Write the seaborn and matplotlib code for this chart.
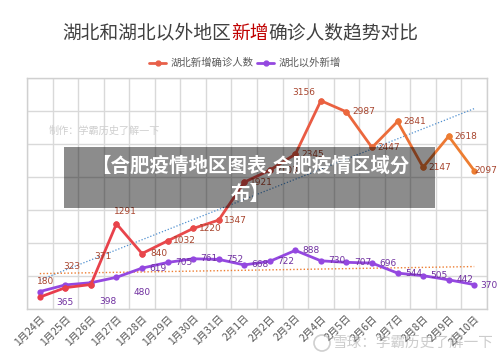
import numpy as np
import pandas as pd
import matplotlib
matplotlib.use("Agg")
import matplotlib.pyplot as plt
import matplotlib.patches as mpatches
from matplotlib.lines import Line2D
from matplotlib.colors import LinearSegmentedColormap
import seaborn as sns

# --- DATA ---
dates = ["1月24日", "1月25日", "1月26日", "1月27日", "1月28日", "1月29日",
         "1月30日", "1月31日", "2月1日", "2月2日", "2月3日", "2月4日",
         "2月5日", "2月6日", "2月7日", "2月8日", "2月9日", "2月10日"]
hubei = [180, 323, 371, 1291, 840, 1032, 1220, 1347, 1921, 2103,
         2345, 3156, 2987, 2447, 2841, 2147, 2618, 2097]
outside = [264, 365, 398, 480, 619, 705, 761, 752, 668, 722,
           888, 730, 707, 696, 544, 505, 442, 370]

df = pd.DataFrame({"idx": np.arange(len(dates)), "date": dates,
                   "hubei": hubei, "outside": outside})

# label offsets in pixels (most labels sit right of the point)
hubei_off = {0: (6, 16), 1: (7, 21), 2: (12, 28), 3: (9, 12), 11: (-17, 8), 17: (12, 0)}
outside_off = {1: (0, -18), 2: (17, -19), 3: (26, -15), 17: (15, -1)}
outside_skip = [0]

sns.set_style("white")
plt.rcParams["font.family"] = ["Noto Sans CJK SC", "DejaVu Sans"]

fig = plt.figure(figsize=(5.0, 3.59), dpi=100)
ax = fig.add_axes([27 / 500, 1 - 309 / 359, 460 / 500, 231 / 359])

red_cmap = LinearSegmentedColormap.from_list("ro", ["#E83C4C", "#E8504A", "#ED7D31"])
purple = "#9448E0"

# --- TRENDLINES ---
sns.regplot(data=df, x="idx", y="hubei", scatter=False, ci=None, ax=ax,
            line_kws=dict(color="#4F8FCF", lw=0.9, ls=(0, (1, 1.5))))
sns.regplot(data=df, x="idx", y="outside", scatter=False, ci=None, ax=ax,
            line_kws=dict(color="#ED7D31", lw=1.0, ls=(0, (1, 1.5))))

# --- LINES ---
sns.lineplot(data=df, x="idx", y="outside", color=purple, lw=2.0,
             marker="o", markersize=4.5, markeredgewidth=0, ax=ax)
n = len(dates)
for i in range(n - 1):
    seg = df.iloc[i:i + 2]
    sns.lineplot(data=seg, x="idx", y="hubei", color=red_cmap(i / (n - 2)),
                 lw=2.0, marker="o", markersize=4.5, markeredgewidth=0, ax=ax)

# --- DATA LABELS ---
for i, v in enumerate(hubei):
    dx, dy = hubei_off.get(i, (17, 0))
    ax.annotate(str(v), (i, v), xytext=(dx, dy), textcoords="offset pixels",
                ha="center", va="center", fontsize=6.5, color="#A8452E",
                family="DejaVu Sans")
for i, v in enumerate(outside):
    if i in outside_skip:
        continue
    dx, dy = outside_off.get(i, (16, 0))
    ax.annotate(str(v), (i, v), xytext=(dx, dy), textcoords="offset pixels",
                ha="center", va="center", fontsize=6.5, color="#7030A0",
                family="DejaVu Sans")

# --- AXES ---
ax.set_xlim(-0.5, n - 0.5)
ax.set_ylim(0, 3500)
ax.set_yticks(np.arange(0, 3501, 500))
ax.set_yticklabels([])
ax.set_xticks(np.arange(n))
ax.set_xticks(np.arange(-0.5, n, 1), minor=True)
ax.set_xticklabels(dates, rotation=45, ha="right", rotation_mode="anchor",
                   fontsize=7.5, color="#595959")
ax.tick_params(axis="both", which="both", length=0)
ax.tick_params(axis="x", pad=3)
ax.grid(True, axis="y", color="#D9D9D9", lw=1)
ax.grid(True, axis="x", which="minor", color="#D9D9D9", lw=1)
ax.grid(False, axis="x", which="major")
ax.set_axisbelow(True)
for s in ax.spines.values():
    s.set_color("#D0D0D0")
    s.set_linewidth(1)
ax.set_xlabel("")
ax.set_ylabel("")

# --- LEGEND ---
handles = [Line2D([0], [0], color="#E8604A", lw=2, marker="o", markersize=3.5),
           Line2D([0], [0], color=purple, lw=2, marker="o", markersize=3.5)]
fig.legend(handles, ["湖北新增确诊人数", "湖北以外新增"], loc="center",
           bbox_to_anchor=(0.49, 1 - 63 / 359), ncol=2, frameon=False,
           fontsize=7.5, handlelength=1.6, handletextpad=0.4, columnspacing=0.4,
           labelcolor="#595959")

# --- TITLE (two colours) ---
fig.canvas.draw()
r = fig.canvas.get_renderer()
ty = 1 - 33 / 359
t1 = fig.text(62 / 500, ty, "湖北和湖北以外地区", fontsize=13.5, color="#404040",
              ha="left", va="center")
x_next = t1.get_window_extent(r).x1 / fig.bbox.width
t2 = fig.text(x_next, ty, "新增", fontsize=13.5, color="#C00000",
              ha="left", va="center")
x_next = t2.get_window_extent(r).x1 / fig.bbox.width
fig.text(x_next, ty, "确诊人数趋势对比", fontsize=13.5, color="#404040",
         ha="left", va="center")

# --- WATERMARKS ---
fig.text(49 / 500, 1 - 131 / 359, "制作：学霸历史了解一下", fontsize=7.3,
         color="#CFCFCF", style="italic", ha="left", va="center")
fig.patches.append(mpatches.Rectangle((64 / 500, 1 - 208 / 359), 371 / 500, 61 / 359,
                                      transform=fig.transFigure, color="black",
                                      alpha=0.45, lw=0, zorder=5))
fig.text(250 / 500, 1 - 165 / 359, "【合肥疫情地区图表,合肥疫情区域分",
         fontsize=14, color="white", weight="bold", ha="center", va="center", zorder=6)
fig.text(250 / 500, 1 - 194 / 359, "布】", fontsize=14, color="white",
         weight="bold", ha="center", va="center", zorder=6)
fig.patches.append(mpatches.Ellipse((322 / 500, 1 - 343 / 359), 16 / 500, 16 / 359,
                                    transform=fig.transFigure, fill=False,
                                    ec="#A0A0A0", lw=1.2, alpha=0.5, zorder=6))
fig.text(333 / 500, 1 - 343 / 359, "雪球：学霸历史了解一下", fontsize=10.5,
         color="#9A9A9A", alpha=0.5, ha="left", va="center", zorder=6)

fig.savefig("out.png", dpi=100, facecolor="white")
